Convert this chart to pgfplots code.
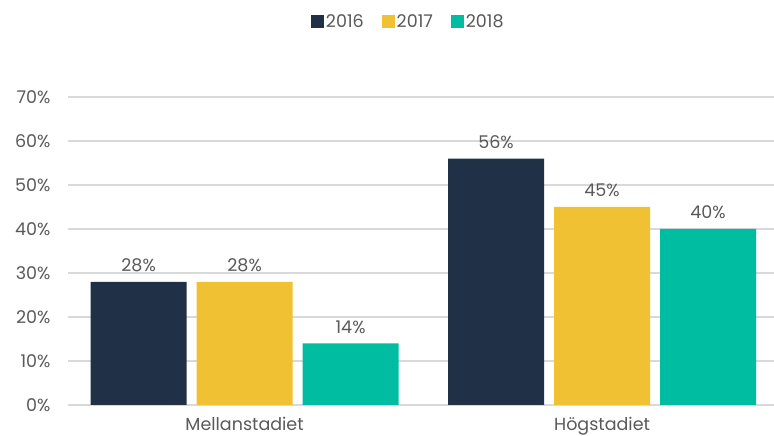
\documentclass[border=0pt]{standalone}
\usepackage{pgfplots}
\pgfplotsset{compat=1.18}
\usepackage{fontspec}
\setmainfont{Poppins}
\definecolor{cnavy}{HTML}{1F3047}
\definecolor{cyellow}{HTML}{F0C133}
\definecolor{cteal}{HTML}{00BCA1}
\definecolor{ctext}{HTML}{595959}
\definecolor{cgrid}{HTML}{D9D9D9}
\begin{document}
\begin{tikzpicture}
\begin{axis}[
  name=ax,
  scale only axis,
  width=706pt, height=308pt,
  xmin=-0.494, xmax=1.481,
  ymin=0, ymax=70,
  ytick={0,10,...,70},
  yticklabel={\pgfmathprintnumber{\tick}\%},
  xtick={0,1},
  xticklabels={Mellanstadiet,Högstadiet},
  axis line style={draw=none},
  major tick length=0pt,
  ymajorgrids,
  grid style={cgrid, line width=1.5pt},
  /pgf/number format/assume math mode=true,
  tick label style={font=\fontsize{17.5}{20}\selectfont, text=ctext},
  yticklabel style={xshift=-14pt},
  xticklabel style={yshift=-8.5pt},
  ybar=0pt,
  bar width=96pt,
  nodes near coords={\pgfmathprintnumber{\pgfplotspointmeta}\%},
  nodes near coords style={font=\fontsize{17.5}{20}\selectfont, text=ctext, yshift=6.5pt},
  legend style={draw=none, at={(0.482,1.245)}, anchor=center, legend columns=-1,
    font=\fontsize{17.5}{20}\selectfont, text=ctext,
    /tikz/every even column/.append style={column sep=16pt}},
  legend image code/.code={\fill[#1] (0pt,-6pt) rectangle (13pt,7pt);},
  clip=false,
]
\addplot[fill=cnavy, draw=none, bar shift=-106pt] coordinates {(0,28) (1,56)};
\addplot[fill=cyellow, draw=none, bar shift=0pt] coordinates {(0,28) (1,45)};
\addplot[fill=cteal, draw=none, bar shift=106pt] coordinates {(0,14) (1,40)};
\legend{2016,2017,2018}
\end{axis}
\pgfresetboundingbox
\path ([xshift=-68pt,yshift=-31pt]ax.south west) rectangle ([yshift=97pt]ax.north east);
\end{tikzpicture}
\end{document}
